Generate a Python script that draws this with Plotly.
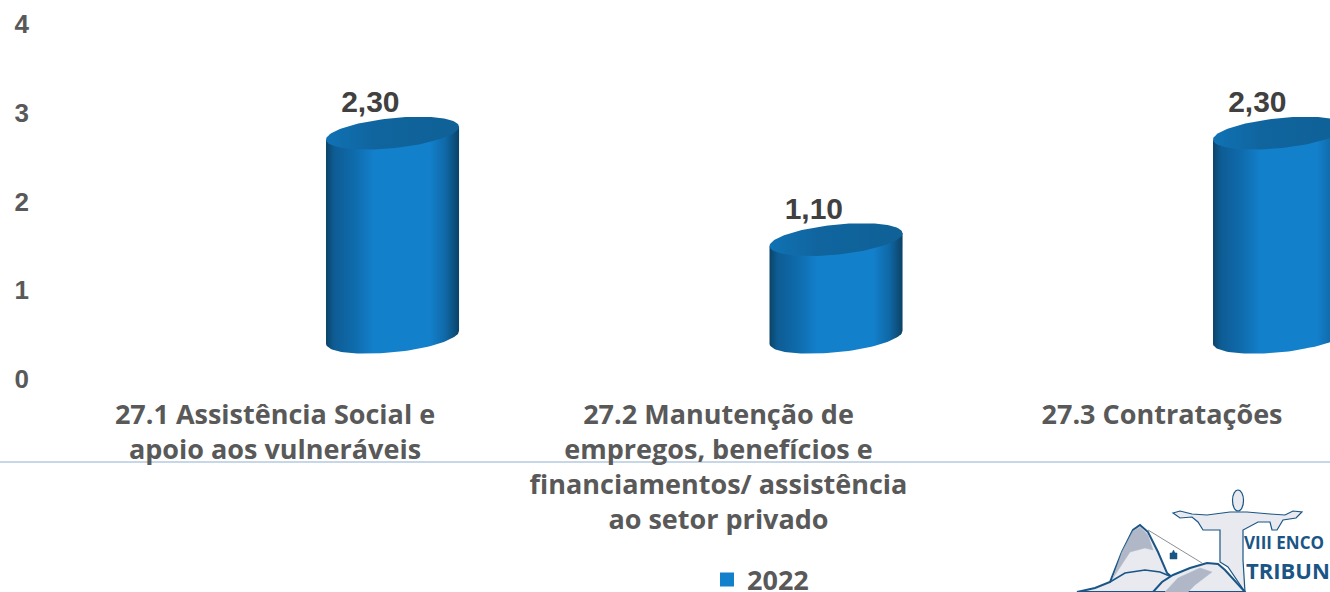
import numpy as np
import plotly.graph_objects as go

categories = ["27.1 Assistência Social e<br>apoio aos vulneráveis",
              "27.2 Manutenção de<br>empregos, benefícios e<br>financiamentos/ assistência<br>ao setor privado",
              "27.3 Contratações"]
values_2022 = [2.30, 1.10, 2.30]
value_labels = ["2,30", "1,10", "2,30"]
y_ticks = [0, 1, 2, 3, 4]
series_name = "2022"

W, H = 1330, 592
ML, MT, MB = 36, 24, 213
PX_X = 443.5
CAT0_PX = 275

positions = list(range(len(categories)))
DEPTH_X = 0.265      # projected depth offset of the 3D cylinders
DEPTH_Y = 0.47
LABEL_X = 0.215
LABEL_Y = 0.79
A = 0.150            # half-width
B = 0.170            # ellipse half-height
TILT = 0.073

BODY_SCALE = [[0, "#0B4468"], [0.06, "#0E5C94"], [0.22, "#0F6CAD"], [0.36, "#1380CC"],
              [0.78, "#1380CC"], [0.90, "#0F68A6"], [1, "#0B4266"]]
TOP_SCALE = [[0, "#1072B4"], [0.35, "#10659F"], [1, "#0F6196"]]

fig = go.Figure()
fig.add_trace(go.Bar(x=[p + DEPTH_X for p in positions], y=values_2022, base=[DEPTH_Y] * len(values_2022),
                     width=0.25, name=series_name,
                     marker=dict(color="#1380CC", line=dict(color="#1380CC", width=2))))

t_front = np.linspace(0, -np.pi, 60)
t_all = np.linspace(0, 2 * np.pi, 120)
for p, v in zip(positions, values_2022):
    cx = p + DEPTH_X
    top = DEPTH_Y + v
    xs = [cx - A, cx + A] + list(cx + A * np.cos(t_front))
    ys = [top - TILT, top + TILT] + list(DEPTH_Y + TILT * np.cos(t_front) + B * np.sin(t_front))
    fig.add_trace(go.Scatter(x=xs, y=ys, mode="lines", fill="toself", line=dict(width=0),
                             fillgradient=dict(type="horizontal", colorscale=BODY_SCALE),
                             showlegend=False, hoverinfo="skip"))
    fig.add_trace(go.Scatter(x=cx + A * np.cos(t_all), y=top + TILT * np.cos(t_all) + B * np.sin(t_all),
                             mode="lines", fill="toself", line=dict(width=0),
                             fillgradient=dict(type="horizontal", colorscale=TOP_SCALE),
                             showlegend=False, hoverinfo="skip"))

fig.add_trace(go.Scatter(x=[p + LABEL_X for p in positions], y=[v + LABEL_Y for v in values_2022],
                         mode="text", text=value_labels, textposition="middle center",
                         textfont=dict(family="Liberation Sans", size=30, color="#404040", weight=700),
                         showlegend=False, hoverinfo="skip", cliponaxis=False))

plot_w = W - ML
plot_h = H - MT - MB
def px(x): return (x - ML) / plot_w
def py(y): return (MT + plot_h - y) / plot_h
def path(points, close=True):
    s = "M" + " L".join(f"{px(a):.5f},{py(b):.5f}" for a, b in points)
    return s + (" Z" if close else "")

DARK = "#1A5585"
LIGHT = "#E8EAEF"
SHADE = "#B0B8C8"
shapes = [dict(type="line", xref="paper", yref="paper", x0=px(0), x1=px(W), y0=py(462), y1=py(462),
               line=dict(color="#8FAFD0", width=1), layer="below")]
def poly(points, fill, line=DARK, width=1.5, close=True):
    shapes.append(dict(type="path", xref="paper", yref="paper", path=path(points, close),
                       fillcolor=fill, line=dict(color=line, width=width), layer="above"))

# logo: Christ statue
poly([(1173, 513), (1180, 511), (1192, 514), (1207, 515), (1230, 512), (1247, 512), (1270, 514), (1285, 515),
      (1293, 511), (1302, 512), (1296, 518), (1283, 520), (1277, 530), (1272, 530), (1270, 522), (1258, 522), (1243, 530),
      (1243, 560), (1245, 592), (1228, 567), (1220, 562), (1220, 530), (1203, 530), (1198, 522), (1192, 517), (1180, 518)],
     LIGHT, width=1.2)
shapes.append(dict(type="circle", xref="paper", yref="paper", x0=px(1232.5), x1=px(1243.5), y0=py(490), y1=py(511),
                   fillcolor=LIGHT, line=dict(color=DARK, width=1.2), layer="above"))
# logo: mountains
poly([(1077, 592), (1095, 588), (1110, 582), (1122, 552), (1133, 530), (1140, 525), (1148, 532), (1158, 552), (1167, 573),
      (1173, 578), (1155, 592)], LIGHT, width=2)
poly([(1122, 552), (1133, 531), (1140, 527), (1148, 535), (1153, 550), (1145, 548), (1130, 552), (1113, 578)], SHADE, line=SHADE, width=0.5)
poly([(1110, 582), (1125, 573), (1145, 570), (1160, 572), (1172, 577)], "rgba(0,0,0,0)", width=1.5, close=False)
poly([(1153, 592), (1162, 582), (1173, 575), (1190, 568), (1207, 563), (1218, 564), (1225, 570), (1245, 592)], LIGHT, width=2)
poly([(1165, 592), (1178, 578), (1200, 568), (1212, 572), (1195, 585), (1188, 592)], SHADE, line=SHADE, width=0.5)
poly([(1148, 530), (1202, 563)], "rgba(0,0,0,0)", line="#8A8F98", width=1, close=False)
poly([(1170, 553), (1177, 553), (1177, 559), (1170, 559)], DARK, width=0.5)
poly([(1172, 553), (1173.5, 550), (1175, 553)], DARK, width=0.5)

annotations = [
    dict(text="VIII ENCO", xref="paper", yref="paper", x=px(1243), y=py(542), xanchor="left", yanchor="middle",
         showarrow=False, borderpad=0, font=dict(family="Open Sans", size=17, color=DARK, weight=700)),
    dict(text="TRIBUN", xref="paper", yref="paper", x=px(1245), y=py(570), xanchor="left", yanchor="middle",
         showarrow=False, borderpad=0, font=dict(family="Open Sans", size=22, color=DARK, weight=700)),
]

fig.update_layout(
    width=W, height=H, autosize=False,
    margin=dict(l=ML, r=0, t=MT, b=MB, pad=0, autoexpand=False),
    paper_bgcolor="white", plot_bgcolor="white",
    shapes=shapes, annotations=annotations,
    showlegend=True,
    legend=dict(x=px(707), y=py(580), xanchor="left", yanchor="middle", orientation="h",
                font=dict(family="Open Sans", size=27, color="#595959", weight=700), bgcolor="rgba(0,0,0,0)"),
    xaxis=dict(range=[(ML - CAT0_PX) / PX_X, (W - CAT0_PX) / PX_X], tickvals=positions, ticktext=categories,
               showgrid=False, zeroline=False, showline=False, ticks="", ticklabelstandoff=17,
               tickfont=dict(family="Open Sans", size=27, color="#595959", weight=700), tickangle=0, automargin=False),
    yaxis=dict(range=[0, 4], tickvals=y_ticks, showgrid=False, zeroline=False, showline=False, ticks="", ticklabelstandoff=6,
               tickfont=dict(family="Liberation Sans", size=26, color="#595959", weight=700), automargin=False),
)

fig.write_html("out.html", config={"displayModeBar": False},
               post_script="document.body.style.margin='0';document.body.style.overflow='hidden';")
